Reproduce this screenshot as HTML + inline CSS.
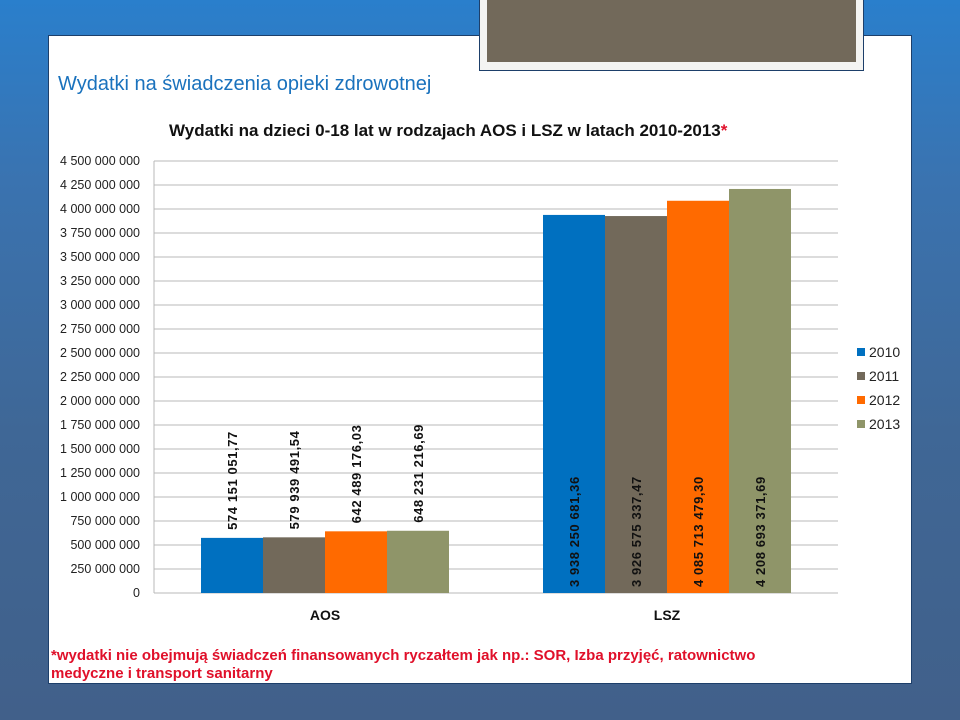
<!DOCTYPE html>
<html><head><meta charset="utf-8"><style>
html,body{margin:0;padding:0}
body{width:960px;height:720px;position:relative;overflow:hidden;font-family:"Liberation Sans","DejaVu Sans",sans-serif;
background:linear-gradient(180deg,#2a7fcc 0%,#3a73b0 25%,#3f6796 60%,#41608a 100%)}
#panel{position:absolute;left:48px;top:35px;width:864px;height:649px;background:#fff;border:1px solid #1d3f6a;box-sizing:border-box}
#frame{position:absolute;left:479px;top:-2px;width:385px;height:73px;background:#f4f4f2;border:1px solid #1d3f6a;box-sizing:border-box}
#photo{position:absolute;left:487px;top:0;width:369px;height:62px;background:#72695a}
.t{position:absolute;white-space:nowrap}
</style></head><body>
<div id="panel"></div>
<div id="frame"></div>
<div id="photo"></div>
<div class="t" style="left:58px;top:73px;font-size:20px;color:#1a72bd;">Wydatki na świadczenia opieki zdrowotnej</div>
<div class="t" style="left:169px;top:121px;font-size:17px;font-weight:bold;color:#111;">Wydatki na dzieci 0-18 lat w rodzajach AOS i LSZ w latach 2010-2013<span style="color:#e0102a">*</span></div>
<svg id="chart" width="960" height="720" style="position:absolute;left:0;top:0" font-family="Liberation Sans, sans-serif"></svg>
<div class="t" style="left:51px;top:647px;font-size:15px;font-weight:bold;color:#e0102a;line-height:18px;">*wydatki nie obejmują świadczeń finansowanych ryczałtem jak np.: SOR, Izba przyjęć, ratownictwo<br>medyczne i transport sanitarny</div>
<script>
const categories=["AOS","LSZ"];
const years=["2010","2011","2012","2013"];
const colors=["#0070c0","#72695a","#ff6a00","#8f9569"];
const s2010=[574151051.77,3938250681.36];
const s2011=[579939491.54,3926575337.47];
const s2012=[642489176.03,4085713479.30];
const s2013=[648231216.69,4208693371.69];
const labels2010=["574 151 051,77","3 938 250 681,36"];
const labels2011=["579 939 491,54","3 926 575 337,47"];
const labels2012=["642 489 176,03","4 085 713 479,30"];
const labels2013=["648 231 216,69","4 208 693 371,69"];
const tickLabels=["0","250 000 000","500 000 000","750 000 000","1 000 000 000","1 250 000 000","1 500 000 000","1 750 000 000","2 000 000 000","2 250 000 000","2 500 000 000","2 750 000 000","3 000 000 000","3 250 000 000","3 500 000 000","3 750 000 000","4 000 000 000","4 250 000 000","4 500 000 000"];
const yMax=4500000000, tickStep=250000000;
const series=[s2010,s2011,s2012,s2013];
const seriesLabels=[labels2010,labels2011,labels2012,labels2013];
const svg=document.getElementById('chart');
const NS='http://www.w3.org/2000/svg';
const X0=154,X1=838,Y0=593,Y1=161;
const y=v=>Y0-(v/yMax)*(Y0-Y1);
const catW=(X1-X0)/categories.length;
const barW=62;
const x=(ci,si)=>X0+catW*ci+(catW-barW*series.length)/2+si*barW;
function mk(tag,attrs){const e=document.createElementNS(NS,tag);for(const k in attrs)e.setAttribute(k,attrs[k]);svg.appendChild(e);return e;}
tickLabels.forEach((lab,i)=>{
  const yy=y(i*tickStep);
  const g=mk('line',{x1:X0,x2:X1,y1:yy,y2:yy,stroke:'#b8b8b8','stroke-width':1});
  
  
  const t=mk('text',{x:140,y:yy+4,'text-anchor':'end','font-size':12.5,fill:'#222'});
  t.textContent=lab;
  
  
});
const ax=mk('line',{x1:X0,x2:X0,y1:Y1,y2:Y0,stroke:'#b8b8b8','stroke-width':1});


categories.forEach((c,ci)=>{
  series.forEach((s,si)=>{
    const bx=x(ci,si),top=y(s[ci]);
    const r=mk('rect',{x:bx,y:top,width:barW,height:Y0-top,fill:colors[si]});
    
    
    const inside=(Y0-top)>150;
    const ly=inside?Y0-6:top-8;
    const cx=bx+barW/2+5;
    const t=mk('text',{x:cx,y:ly,transform:`rotate(-90 ${cx} ${ly})`,'font-size':13,'font-weight':'bold',fill:'#111','letter-spacing':'0.6'});
    t.textContent=seriesLabels[si][ci];
    
    
  });
  const ct=mk('text',{x:X0+catW*ci+catW/2,y:620,'text-anchor':'middle','font-size':14,'font-weight':'bold',fill:'#111'});
  ct.textContent=c;
  
  
});
years.forEach((yr,i)=>{
  const ly=352+i*24;
  const sw=mk('rect',{x:857,y:ly-4,width:8,height:8,fill:colors[i]});
  
  
  const t=mk('text',{x:869,y:ly+5,'font-size':14,fill:'#222'});
  t.textContent=yr;
  
  
});
</script>
</body></html>
